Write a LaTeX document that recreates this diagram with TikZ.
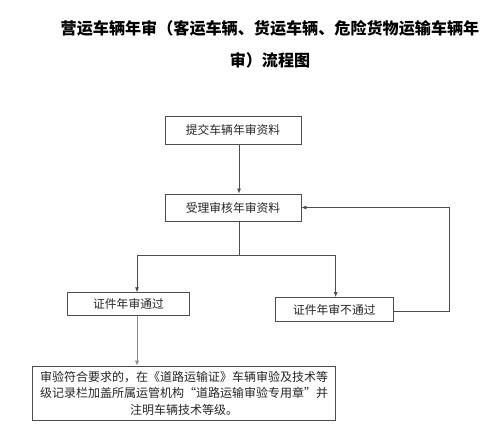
\documentclass[tikz,border=0pt]{standalone}
\usepackage{fontspec}
\setmainfont{Noto Sans CJK SC}
\usetikzlibrary{arrows.meta}
\tikzset{
  box/.style={draw=black!70, line width=0.8pt, fill=white, inner sep=0pt, font=\fontsize{11.8}{14}\selectfont, text=black!85},
  conn/.style={draw=black!70, line width=0.7pt},
  arr/.style={conn, -{Latex[length=5pt,width=4pt]}},
  ttl/.style={font=\fontsize{16.1}{18}\selectfont\bfseries, text=black, inner sep=0pt}
}
\begin{document}
\begin{tikzpicture}[x=1pt,y=-1pt]
\useasboundingbox (0,0) rectangle (500,436);
\node[ttl] (t1) at (270,28) {营运车辆年审（客运车辆、货运车辆、危险货物运输车辆年};
\node[ttl] (t2) at (270,60) {审）流程图};
\node[box, minimum width=136pt, minimum height=28pt] (b1) at (233,130) {提交车辆年审资料};
\node[box, minimum width=136pt, minimum height=27pt] (b2) at (233,207.5) {受理审核年审资料};
\node[box, minimum width=122pt, minimum height=23pt] (b3) at (128.5,304.2) {证件年审通过};
\node[box, minimum width=118pt, minimum height=24pt] (b4) at (334.3,309.5) {证件年审不通过};
\node[box, minimum width=303pt, minimum height=54.7pt, align=center, font=\fontsize{12}{16.8}\selectfont] (b5) at (184.2,393.4) {审验符合要求的，在《道路运输证》车辆审验及技术等\\级记录栏加盖所属运管机构“道路运输审验专用章”并\\注明车辆技术等级。};
\coordinate (j) at (239,255);
\coordinate (jl) at (137,255);
\coordinate (jr) at (335.7,255);
\coordinate (r1) at (449.3,311);
\coordinate (r2) at (449.3,207.5);
\draw[arr] (b1.south -| j) -- (b2.north -| j);
\draw[conn] (b2.south -| j) -- (j);
\draw[arr] (j) -- (jl) -- (b3.north -| jl);
\draw[arr] (j) -- (jr) -- (b4.north -| jr);
\draw[arr, draw=black!45] (b3.south -| jl) -- (b5.north -| jl);
\draw[arr] (b4.east |- r1) -- (r1) -- (r2) -- (b2.east);
\end{tikzpicture}
\end{document}
